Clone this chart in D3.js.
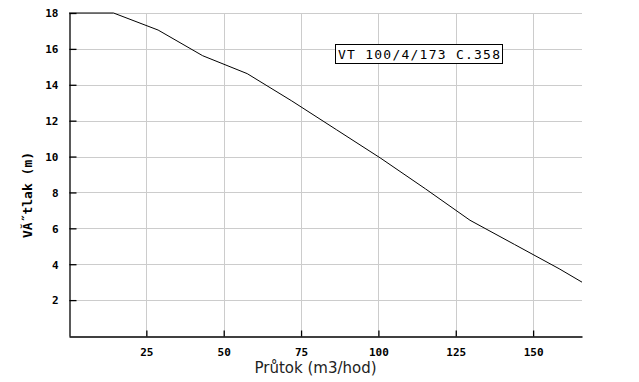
<!DOCTYPE html>
<html>
<head>
<meta charset="utf-8">
<script src="https://cdn.jsdelivr.net/npm/d3@7"></script>
<style>
  body { margin: 0; background: #fff; }
  svg { display: block; }
</style>
</head>
<body>
<div id="chart"></div>
<script>
// curve points (flow m3/hod, head m)
let flow = [0, 14.4, 28.8, 43.2, 57.6, 72, 86.4, 100.8, 115.2, 129.6, 144, 158.4, 165.8];
let head = [18, 18, 17.05, 15.62, 14.62, 13.1, 11.5, 9.9, 8.2, 6.45, 5.1, 3.75, 3.0];
let xTicks = [25, 50, 75, 100, 125, 150];
let yTicks = [2, 4, 6, 8, 10, 12, 14, 16, 18];
let title = 'VT 100/4/173 C.358';
let xLabel = 'Průtok (m3/hod)';
let yLabel = 'VĂ˝tlak (m)';

let W = 639, H = 382;
let mLeft = 69, mRight = 582, mTop = 13, mBottom = 336;

let svg = d3.select('#chart').append('svg')
    .attr('width', W).attr('height', H);

let x = d3.scaleLinear().domain([0, 165.8]).range([mLeft, mRight]);
let y = d3.scaleLinear().domain([0, 18]).range([mBottom, mTop]);

// grid
let grid = svg.append('g').attr('stroke', '#cccccc').attr('stroke-width', 1);
grid.selectAll('.gx').data(xTicks).enter().append('line')
    .attr('x1', d => Math.round(x(d)) + 0.5).attr('x2', d => Math.round(x(d)) + 0.5)
    .attr('y1', mTop).attr('y2', mBottom);
grid.selectAll('.gy').data(yTicks).enter().append('line')
    .attr('y1', d => Math.round(y(d)) + 0.5).attr('y2', d => Math.round(y(d)) + 0.5)
    .attr('x1', mLeft).attr('x2', mRight);

// axes
let xAxis = svg.append('g')
    .attr('transform', 'translate(0,' + (mBottom + 0.5) + ')')
    .call(d3.axisBottom(x).tickValues(xTicks).tickSizeInner(-6).tickSizeOuter(0).tickPadding(12));
let yAxis = svg.append('g')
    .attr('transform', 'translate(' + (mLeft + 0.5) + ',0)')
    .call(d3.axisLeft(y).tickValues(yTicks).tickSizeInner(-7).tickSizeOuter(0).tickPadding(11));

[xAxis, yAxis].forEach(a => {
    a.select('.domain').attr('stroke', '#000').attr('stroke-width', 1.3);
    a.selectAll('.tick line').attr('stroke', '#000').attr('stroke-width', 1.3);
    a.selectAll('.tick text')
        .attr('fill', '#000')
        .style('font-family', '"DejaVu Sans Mono", monospace')
        .style('font-weight', 'bold')
        .style('font-size', '11px');
});
yAxis.selectAll('.tick text').attr('dy', '0.35em');

// curve
let line = d3.line().x((d, i) => x(flow[i])).y(d => y(d));
svg.append('path')
    .datum(head)
    .attr('d', line)
    .attr('fill', 'none')
    .attr('stroke', '#000')
    .attr('stroke-width', 1);

// title box
let tg = svg.append('g');
tg.append('rect')
    .attr('x', 335.5).attr('y', 44.5)
    .attr('width', 167).attr('height', 19)
    .attr('fill', '#fff').attr('stroke', '#000');
tg.append('text')
    .attr('x', 338).attr('y', 59)
    .attr('textLength', 162)
    .style('font-family', '"DejaVu Sans Mono", monospace')
    .style('font-size', '13px')
    .text(title);

// axis labels
svg.append('text')
    .attr('x', 315.5).attr('y', 373)
    .attr('text-anchor', 'middle')
    .attr('fill', '#222')
    .style('font-family', '"DejaVu Sans", sans-serif')
    .style('font-size', '15px')
    .text(xLabel);

svg.append('text')
    .attr('transform', 'translate(32,195) rotate(-90)')
    .attr('text-anchor', 'middle')
    .style('font-family', '"DejaVu Sans Mono", monospace')
    .style('font-weight', 'bold')
    .style('font-size', '13px')
    .text(yLabel);
</script>
</body>
</html>
